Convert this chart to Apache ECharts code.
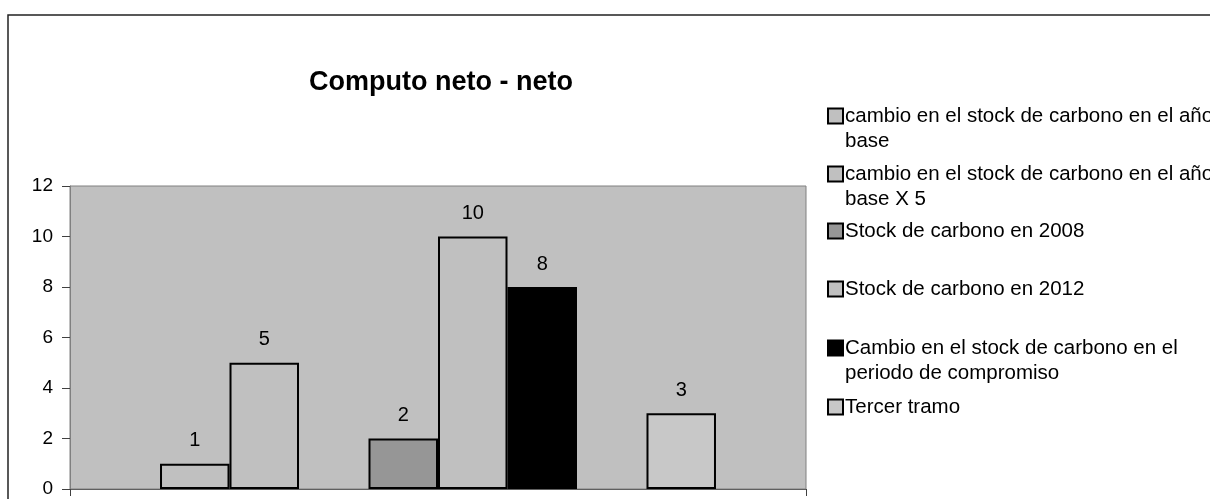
<!DOCTYPE html>
<html>
<head>
<meta charset="utf-8">
<script src="https://cdn.jsdelivr.net/npm/echarts@6/dist/echarts.min.js"></script>
<style>
html,body{margin:0;padding:0;background:#fff;}
#chart{width:1210px;height:499px;}
</style>
</head>
<body>
<div id="chart"></div>
<script>
// ---- data ----
const categories = [''];
const seriesNames = [
  'cambio en el stock de carbono en el año base',
  'cambio en el stock de carbono en el año base X 5',
  'Stock de carbono en 2008',
  'Stock de carbono en 2012',
  'Cambio en el stock de carbono en el periodo de compromiso',
  'Tercer tramo'
];
const seriesValues = [1, 5, 2, 10, 8, 3];
const yTicks = [0, 2, 4, 6, 8, 10, 12];
const titleText = 'Computo neto - neto';

// ---- styles ----
const FONT = "'Liberation Sans', Arial, sans-serif";
const colors = ['#c0c0c0', '#c0c0c0', '#969696', '#c0c0c0', '#000000', '#c8c8c8'];
const legendCenters = [116, 174, 231, 289, 348, 407];
const wrapped = {
  'cambio en el stock de carbono en el año base': 'cambio en el stock de carbono en el año\nbase',
  'cambio en el stock de carbono en el año base X 5': 'cambio en el stock de carbono en el año\nbase X 5',
  'Cambio en el stock de carbono en el periodo de compromiso': 'Cambio en el stock de carbono en el\nperiodo de compromiso'
};

const series = [];
function spacer() {
  series.push({ name: '', type: 'bar', data: categories.map(() => null),
    barGap: '0%', barCategoryGap: '24.46%', silent: true });
}
seriesNames.forEach((name, i) => {
  series.push({
    name: name,
    type: 'bar',
    data: categories.map(() => seriesValues[i]),
    barGap: '0%',
    barCategoryGap: '24.46%',
    itemStyle: { color: colors[i], borderColor: '#000', borderWidth: 2 },
    label: { show: true, position: 'top', distance: 13, color: '#000',
      fontFamily: FONT, fontSize: 20 }
  });
  if (i === 1 || i === 4) spacer();
});

const LH = 25;
const legends = seriesNames.map((name, i) => {
  const twoLine = !!wrapped[name];
  const top = twoLine ? legendCenters[i] - 7.5 - 30 : legendCenters[i] - 12.5;
  return {
    data: [name],
    orient: 'vertical',
    left: 827,
    top: top,
    padding: 0,
    itemWidth: 15,
    itemHeight: 15,
    icon: 'rect',
    selectedMode: false,
    formatter: n => wrapped[n] ? '\n' + wrapped[n] : n,
    itemStyle: { borderColor: '#000', borderWidth: 2 },
    textStyle: { fontFamily: FONT, fontSize: 20.5, color: '#000', lineHeight: LH,
      padding: [0, 0, 0, -3] }
  };
});

const chart = echarts.init(document.getElementById('chart'));
chart.setOption({
  animation: false,
  backgroundColor: '#fff',
  title: {
    text: titleText,
    left: 309,
    top: 67,
    padding: 0,
    textStyle: { fontFamily: FONT, fontSize: 27, fontWeight: 'bold', color: '#000', lineHeight: 32 }
  },
  graphic: [{
    type: 'rect', shape: { x: 8, y: 15, width: 1400, height: 700 },
    style: { fill: 'none', stroke: '#222', lineWidth: 1.5 }, silent: true, z: 100
  }],
  legend: legends,
  grid: {
    left: 70, right: 404, top: 186, bottom: 10,
    show: true, backgroundColor: '#c0c0c0', borderColor: '#808080', borderWidth: 1
  },
  xAxis: {
    type: 'category',
    data: categories,
    axisLine: { show: true, lineStyle: { color: '#606060', width: 1 } },
    axisTick: { show: true, length: 7, lineStyle: { color: '#404040' } },
    axisLabel: { show: false },
    splitLine: { show: false }
  },
  yAxis: {
    type: 'value',
    min: yTicks[0],
    max: yTicks[yTicks.length - 1],
    interval: yTicks[1] - yTicks[0],
    axisLine: { show: true, lineStyle: { color: '#808080', width: 1 } },
    axisTick: { show: true, length: 8, lineStyle: { color: '#404040' } },
    axisLabel: { fontFamily: FONT, fontSize: 19, color: '#000', margin: 17 },
    splitLine: { show: false }
  },
  series: series
});
</script>
</body>
</html>
